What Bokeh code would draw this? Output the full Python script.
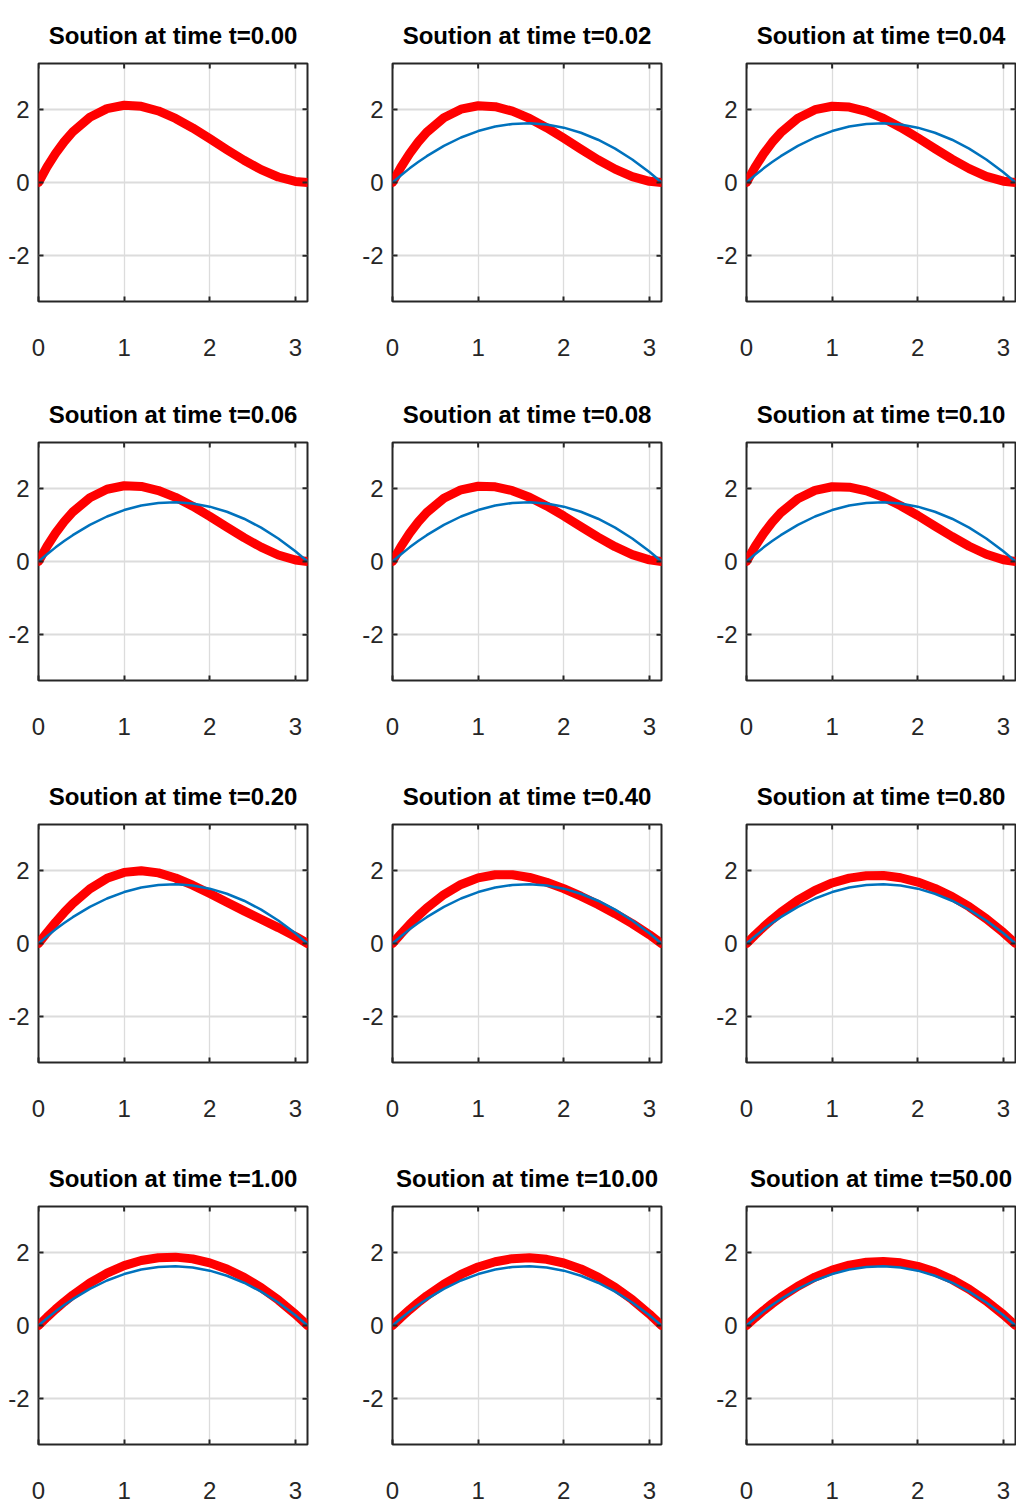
from math import pi
from bokeh.plotting import figure
from bokeh.layouts import gridplot
from bokeh.models import Range1d, FixedTicker
from bokeh.embed import file_html
from bokeh.resources import INLINE

# ---- data ----
X = [0.0, 0.1, 0.2, 0.3, 0.4, 0.6, 0.8, 1.0, 1.2, 1.4, 1.6, 1.8, 2.0, 2.2, 2.4, 2.6, 2.8, 3.0, 3.14159]

BLUE = [0, 0.200, 0.386, 0.559, 0.719, 1.000, 1.229, 1.405, 1.528, 1.599, 1.618, 1.584, 1.498, 1.359, 1.168, 0.924, 0.627, 0.279, 0]

RED_T000 = [0, 0.426, 0.796, 1.114, 1.383, 1.783, 2.018, 2.110, 2.081, 1.953, 1.749, 1.490, 1.199, 0.897, 0.607, 0.351, 0.150, 0.028, 0]
RED_T002 = [0, 0.423, 0.790, 1.106, 1.372, 1.769, 2.003, 2.096, 2.071, 1.948, 1.750, 1.497, 1.210, 0.911, 0.622, 0.364, 0.160, 0.032, 0]
RED_T004 = [0, 0.420, 0.784, 1.097, 1.361, 1.755, 1.988, 2.083, 2.061, 1.943, 1.751, 1.503, 1.222, 0.926, 0.637, 0.378, 0.169, 0.036, 0]
RED_T006 = [0, 0.417, 0.779, 1.089, 1.351, 1.741, 1.973, 2.069, 2.051, 1.938, 1.752, 1.510, 1.233, 0.940, 0.652, 0.391, 0.178, 0.041, 0]
RED_T008 = [0, 0.414, 0.773, 1.080, 1.340, 1.727, 1.958, 2.055, 2.041, 1.933, 1.753, 1.517, 1.244, 0.954, 0.667, 0.404, 0.188, 0.045, 0]
RED_T010 = [0, 0.411, 0.767, 1.072, 1.329, 1.713, 1.943, 2.042, 2.030, 1.928, 1.753, 1.523, 1.256, 0.968, 0.682, 0.417, 0.197, 0.049, 0]
RED_T020 = [0, 0.300, 0.584, 0.848, 1.089, 1.492, 1.779, 1.942, 1.987, 1.928, 1.789, 1.593, 1.365, 1.127, 0.891, 0.662, 0.434, 0.192, 0]
RED_T040 = [0, 0.267, 0.519, 0.754, 0.969, 1.337, 1.612, 1.792, 1.877, 1.876, 1.804, 1.673, 1.498, 1.292, 1.064, 0.815, 0.543, 0.240, 0]
RED_T080 = [0, 0.233, 0.453, 0.658, 0.848, 1.182, 1.451, 1.653, 1.785, 1.852, 1.855, 1.796, 1.678, 1.505, 1.280, 1.004, 0.676, 0.299, 0]
RED_T100 = [0, 0.228, 0.443, 0.644, 0.831, 1.160, 1.428, 1.634, 1.775, 1.852, 1.867, 1.819, 1.710, 1.542, 1.317, 1.035, 0.698, 0.309, 0]
RED_T1000 = [0, 0.222, 0.432, 0.627, 0.809, 1.130, 1.394, 1.599, 1.742, 1.826, 1.848, 1.808, 1.707, 1.545, 1.323, 1.043, 0.704, 0.312, 0]
RED_T5000 = [0, 0.212, 0.412, 0.597, 0.770, 1.073, 1.322, 1.514, 1.649, 1.727, 1.748, 1.711, 1.616, 1.464, 1.256, 0.991, 0.671, 0.297, 0]

TIMES = ["0.00", "0.02", "0.04", "0.06", "0.08", "0.10", "0.20", "0.40", "0.80", "1.00", "10.00", "50.00"]
REDS = [RED_T000, RED_T002, RED_T004, RED_T006, RED_T008, RED_T010,
        RED_T020, RED_T040, RED_T080, RED_T100, RED_T1000, RED_T5000]
SHOW_BLUE = [False] + [True] * 11

X_MIN, X_MAX = 0, 3.14159
Y_MIN, Y_MAX = -3.25, 3.25
X_TICKS = [0, 1, 2, 3]
Y_TICKS = [-2, 0, 2]

# ---- styling ----
FONT = "Liberation Sans"
DARK = "#262626"
FRAME_W = 269
FRAME_H = 238
COL_L = [38, 33, 33]
COL_R = [52, 52, 1]
ROW_T = [63, 59, 59, 59]
ROW_B = [82, 85, 85, 66]

figs = []
for i in range(12):
    r, c = divmod(i, 3)
    p = figure(frame_width=FRAME_W, frame_height=FRAME_H,
               x_range=Range1d(X_MIN, X_MAX), y_range=Range1d(Y_MIN, Y_MAX),
               output_backend="svg", toolbar_location=None,
               min_border_left=COL_L[c], min_border_right=COL_R[c],
               min_border_top=ROW_T[r], min_border_bottom=ROW_B[r],
               title="Soution at time t=" + TIMES[i])
    p.background_fill_color = "white"
    p.border_fill_color = "white"
    p.outline_line_color = DARK
    p.outline_line_width = 2

    p.title.text_font = FONT
    p.title.text_font_size = "24px"
    p.title.text_font_style = "bold"
    p.title.text_color = "black"
    p.title.align = "center"
    p.title.standoff = 30

    p.xaxis.ticker = FixedTicker(ticks=X_TICKS)
    p.yaxis.ticker = FixedTicker(ticks=Y_TICKS)
    p.yaxis.major_label_overrides = {-2: "-2"}
    for ax in [p.xaxis[0], p.yaxis[0]]:
        ax.axis_line_color = None
        ax.major_tick_in = 5
        ax.major_tick_out = 0
        ax.minor_tick_in = 0
        ax.minor_tick_out = 0
        ax.major_tick_line_color = DARK
        ax.major_tick_line_width = 2
        ax.major_label_text_font = FONT
        ax.major_label_text_font_size = "24px"
        ax.major_label_text_color = DARK
    p.xaxis.major_label_standoff = 37
    p.yaxis.major_label_standoff = 9

    p.xgrid.grid_line_color = "#dcdcdc"
    p.xgrid.grid_line_width = 1.3
    p.ygrid.grid_line_color = "#dcdcdc"
    p.ygrid.grid_line_width = 2

    p.line(X, REDS[i], line_color="#ff0000", line_width=9,
           line_cap="round", line_join="round")
    if SHOW_BLUE[i]:
        p.line(X, BLUE, line_color="#0072bd", line_width=2.5)

    # inward ticks on the top and right edges of the box
    p.scatter(X_TICKS, [Y_MAX] * len(X_TICKS), marker="dash", angle=pi / 2,
              size=10, line_color=DARK, line_width=2)
    p.scatter([X_MAX] * len(Y_TICKS), Y_TICKS, marker="dash",
              size=10, line_color=DARK, line_width=2)

    figs.append(p)

grid = gridplot([figs[0:3], figs[3:6], figs[6:9], figs[9:12]], toolbar_location=None)

open("out.html", "w").write(file_html(grid, INLINE))
